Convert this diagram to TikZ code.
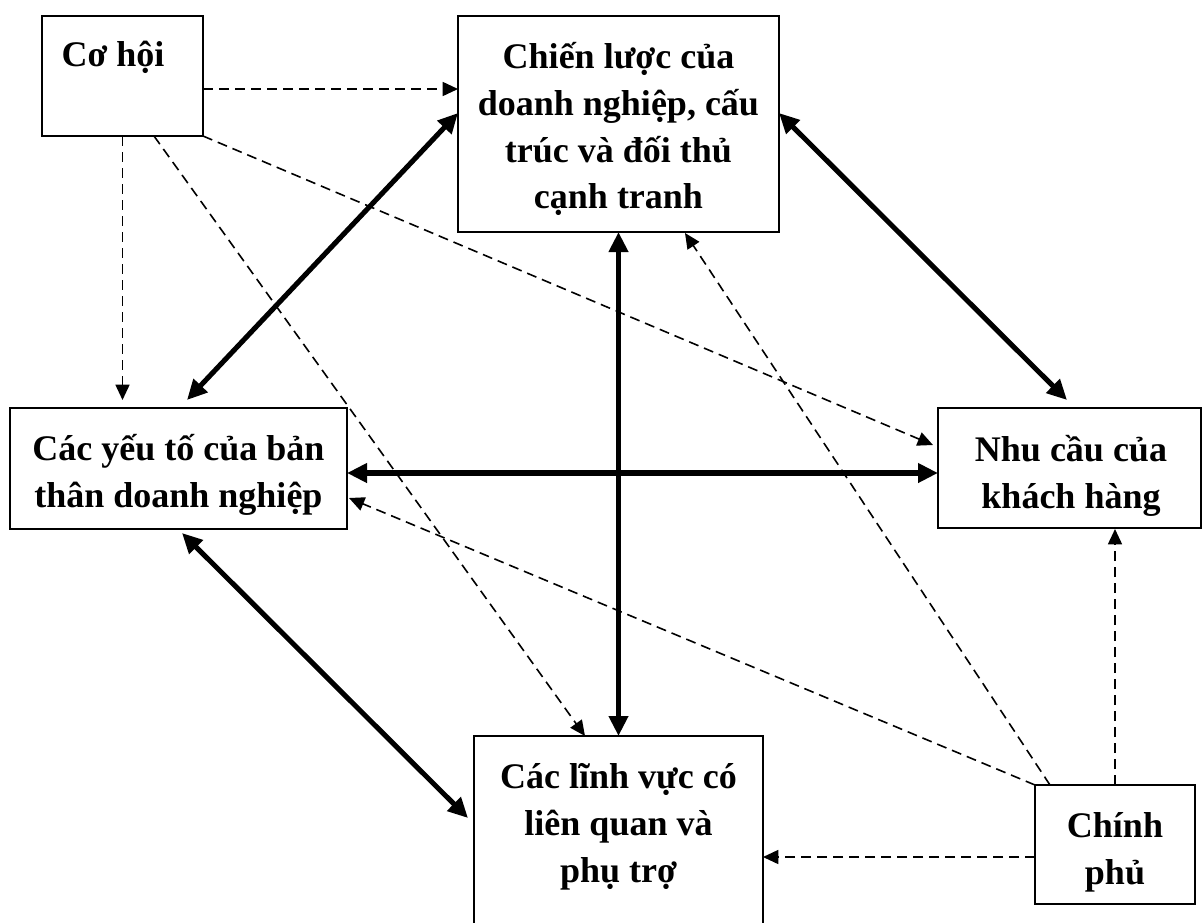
\documentclass[tikz,border=0pt]{standalone}
\usepackage{fontspec}
\setmainfont{Liberation Serif}
\usetikzlibrary{arrows.meta}
\newcommand\boxfont{\bfseries\fontsize{27pt}{35.2pt}\selectfont}
\begin{document}
\begin{tikzpicture}[x=0.75pt,y=-0.75pt,
  box/.style={draw,line width=1.5pt,inner sep=0pt,outer sep=0pt},
  txt/.style={inner sep=0pt,outer sep=0pt,align=center,font=\boxfont},
  strong/.style={line width=3.8pt,{Triangle[length=15pt,width=14pt]}-{Triangle[length=15pt,width=14pt]}},
  weak/.style={line width=1.2pt,dash pattern=on 7.5pt off 4.5pt,-{Triangle[length=11.5pt,width=10.5pt]}}]
\fill[white] (0,0) rectangle (1203,922);
\useasboundingbox (0,0) rectangle (1203,922);
\clip (0,0) rectangle (1203,922);

% boxes
\node[box,minimum width=120.75pt,minimum height=90pt] (coh) at (122.5,76) {};
\node[box,minimum width=240.75pt,minimum height=162pt] (cl) at (618.5,124) {};
\node[box,minimum width=252.75pt,minimum height=90.75pt] (ytdn) at (178.5,468.5) {};
\node[box,minimum width=197.25pt,minimum height=90pt] (nckh) at (1069.5,468) {};
\node[box,minimum width=216.75pt,minimum height=168pt] (lv) at (618.5,848) {};
\node[box,minimum width=120pt,minimum height=89.25pt] (cp) at (1115,844.5) {};

% box texts
\node[txt,anchor=base] (cohtxt) at (113,66) {Cơ hội};
\node[txt] (cltxt) at (618.5,129) {Chiến lược của\\doanh nghiệp, cấu\\trúc và đối thủ\\cạnh tranh};
\node[txt] (ytdntxt) at (178.5,475) {Các yếu tố của bản\\thân doanh nghiệp};
\node[txt] (nckhtxt) at (1071,476) {Nhu cầu của\\khách hàng};
\node[txt] (lvtxt) at (618.5,827) {Các lĩnh vực có\\liên quan và\\phụ trợ};
\node[txt] (cptxt) at (1115,852) {Chính\\phủ};

% two-way links
\draw[strong] ([shift={(8.5,-8)}]ytdn.north) -- ([shift={(0,-11)}]cl.west);
\draw[strong] ([shift={(0,-11)}]cl.east) -- ([shift={(-2.5,-8)}]nckh.north);
\draw[strong] (cl.south) -- (lv.north);
\draw[strong] ([shift={(0,4.5)}]ytdn.east) -- ([shift={(0,5)}]nckh.west);
\draw[strong] ([shift={(3.5,4)}]ytdn.south) -- ([shift={(-6,-30)}]lv.west);

% one-way influences
\draw[weak] ([shift={(0,13)}]coh.east) -- ([shift={(0,-35)}]cl.west);
\draw[weak] (coh.south) -- ([shift={(-56,-8)}]ytdn.north);
\draw[weak] ([shift={(31.5,0)}]coh.south) -- ([shift={(-33.5,0)}]lv.north);
\draw[weak] (coh.south east) -- ([shift={(-5,-23)}]nckh.west);
\draw[weak] ([shift={(-65,0)}]cp.north) -- ([shift={(66.5,1)}]cl.south);
\draw[weak] (cp.north west) -- ([shift={(2,29.5)}]ytdn.east);
\draw[weak] (cp.north) -- ([shift={(45.5,1)}]nckh.south);
\draw[weak] ([shift={(0,12.5)}]cp.west) -- ([shift={(0,9)}]lv.east);
\end{tikzpicture}
\end{document}
